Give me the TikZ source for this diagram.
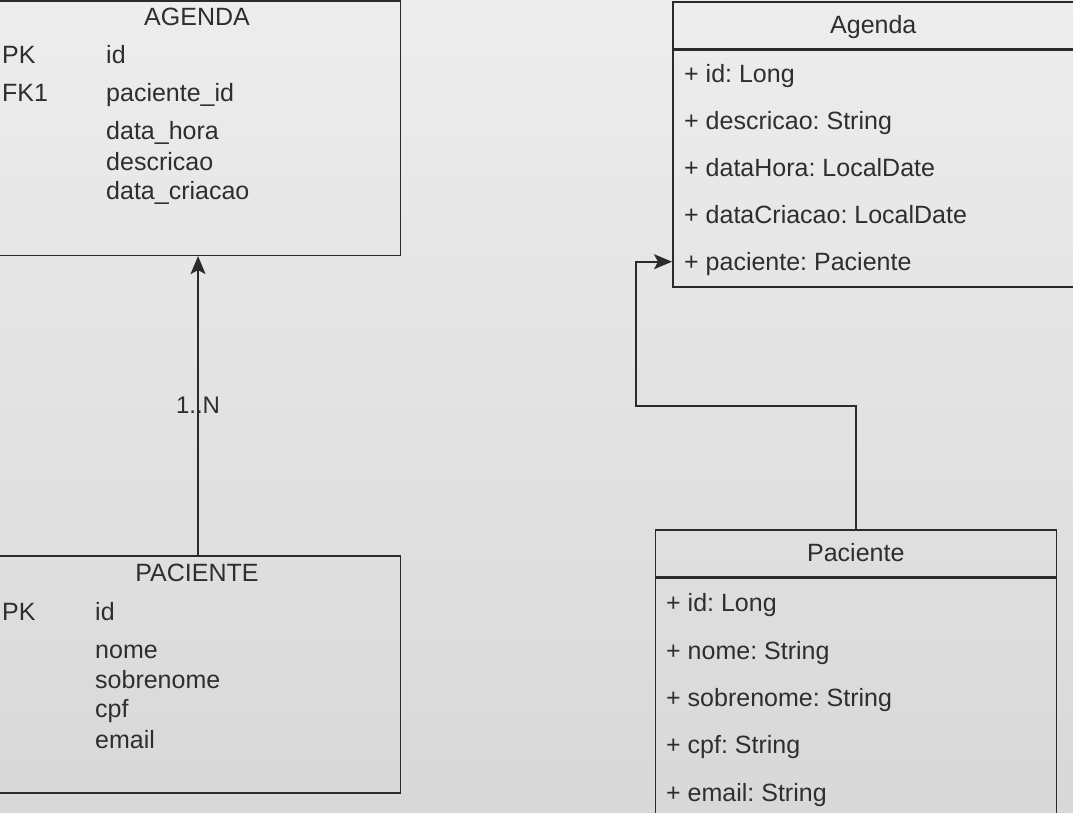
\documentclass[tikz,border=0pt]{standalone}
\usepackage{fontspec}
\setmainfont{Liberation Sans}
\usepackage{xcolor}
\usetikzlibrary{arrows.meta, positioning}

\definecolor{edge}{HTML}{2B2B2B}
\definecolor{ink}{HTML}{2E2E2E}
\definecolor{bgtop}{HTML}{EDEDED}
\definecolor{bgbot}{HTML}{D8D8D8}

\frenchspacing

\begin{document}
\begin{tikzpicture}[
    x=1pt, y=-1pt,
    entity/.style={rectangle, draw=edge, line width=1.6pt, anchor=north west, inner sep=0pt},
    classhead/.style={rectangle, draw=edge, line width=1.6pt, minimum width=401pt, minimum height=46.7pt,
        font=\fontsize{25}{30}\selectfont, text=ink, text height=16pt, text depth=0pt, inner sep=0pt},
    classbody/.style={rectangle, draw=edge, line width=1.6pt, minimum width=401pt, anchor=north, inner sep=0pt},
    field/.style={font=\fontsize{25}{30}\selectfont, text=ink, anchor=base west, inner sep=0pt, text height=18pt, text depth=0pt},
    title/.style={field, anchor=base},
    arrow/.style={draw=edge, line width=1.6pt, ->, >={Stealth[length=18pt,width=15pt,inset=4pt]}}
]

\useasboundingbox (0,0) rectangle (1073,813);
\shade[top color=bgtop, bottom color=bgbot] (0,0) rectangle (1073,813);
\clip (0,0) rectangle (1073,813);

% ER model: AGENDA
\node[entity, minimum width=404.5pt, minimum height=254pt] (agendaER) at (-5,0.5) {};
\node[title] (agendaERtitle) at (197,26) {AGENDA};
\node[field] (agendaERpk) at (2,64) {PK};
\node[field] (agendaERid) at (106,64) {id};
\node[field] (agendaERfk) at (2,102) {FK1};
\node[field] (agendaERpac) at (106,102) {paciente\_id};
\node[field] (agendaERhora) at (106,140) {data\_hora};
\node[field] (agendaERdesc) at (106,170.7) {descricao};
\node[field] (agendaERcria) at (106,200) {data\_criacao};

% ER model: PACIENTE
\node[entity, minimum width=404.5pt, minimum height=237pt] (pacienteER) at (-5,555) {};
\node[title] (pacienteERtitle) at (197,581.7) {PACIENTE};
\node[field] (pacienteERpk) at (2,620) {PK};
\node[field] (pacienteERid) at (95,620) {id};
\node[field] (pacienteERnome) at (95,658) {nome};
\node[field] (pacienteERsobre) at (95,688) {sobrenome};
\node[field] (pacienteERcpf) at (95,717) {cpf};
\node[field] (pacienteERmail) at (95,748) {email};

% UML class: Agenda
\node[classhead, anchor=north west] (agendaHead) at (672,1) {Agenda};
\node[classbody, minimum height=236.6pt] (agendaBody) at (agendaHead.south) {};
\node[field] (agendaRow1) at (684,82.7) {+ id: Long};
\node[field] (agendaRow2) at (684,129.7) {+ descricao: String};
\node[field] (agendaRow3) at (684,176.7) {+ dataHora: LocalDate};
\node[field] (agendaRow4) at (684,223.7) {+ dataCriacao: LocalDate};
\node[field] (agendaRow5) at (684,270.7) {+ paciente: Paciente};

% UML class: Paciente
\node[classhead, anchor=north west] (pacienteHead) at (654.5,529) {Paciente};
\node[classbody, minimum height=236pt] (pacienteBody) at (pacienteHead.south) {};
\node[field] (pacienteRow1) at (666,611.7) {+ id: Long};
\node[field] (pacienteRow2) at (666,659) {+ nome: String};
\node[field] (pacienteRow3) at (666,706.7) {+ sobrenome: String};
\node[field] (pacienteRow4) at (666,753.5) {+ cpf: String};
\node[field] (pacienteRow5) at (666,801) {+ email: String};

% Connections
\draw[arrow] (pacienteER.north) -- node[font=\fontsize{24}{28}\selectfont, text=ink, inner sep=0pt] (card) {1..N} (agendaER.south);

\coordinate (bend) at (636,405.7);
\draw[arrow] (pacienteHead.north) |- (bend) |- (agendaBody.west |- agendaRow5.center);

\end{tikzpicture}
\end{document}
